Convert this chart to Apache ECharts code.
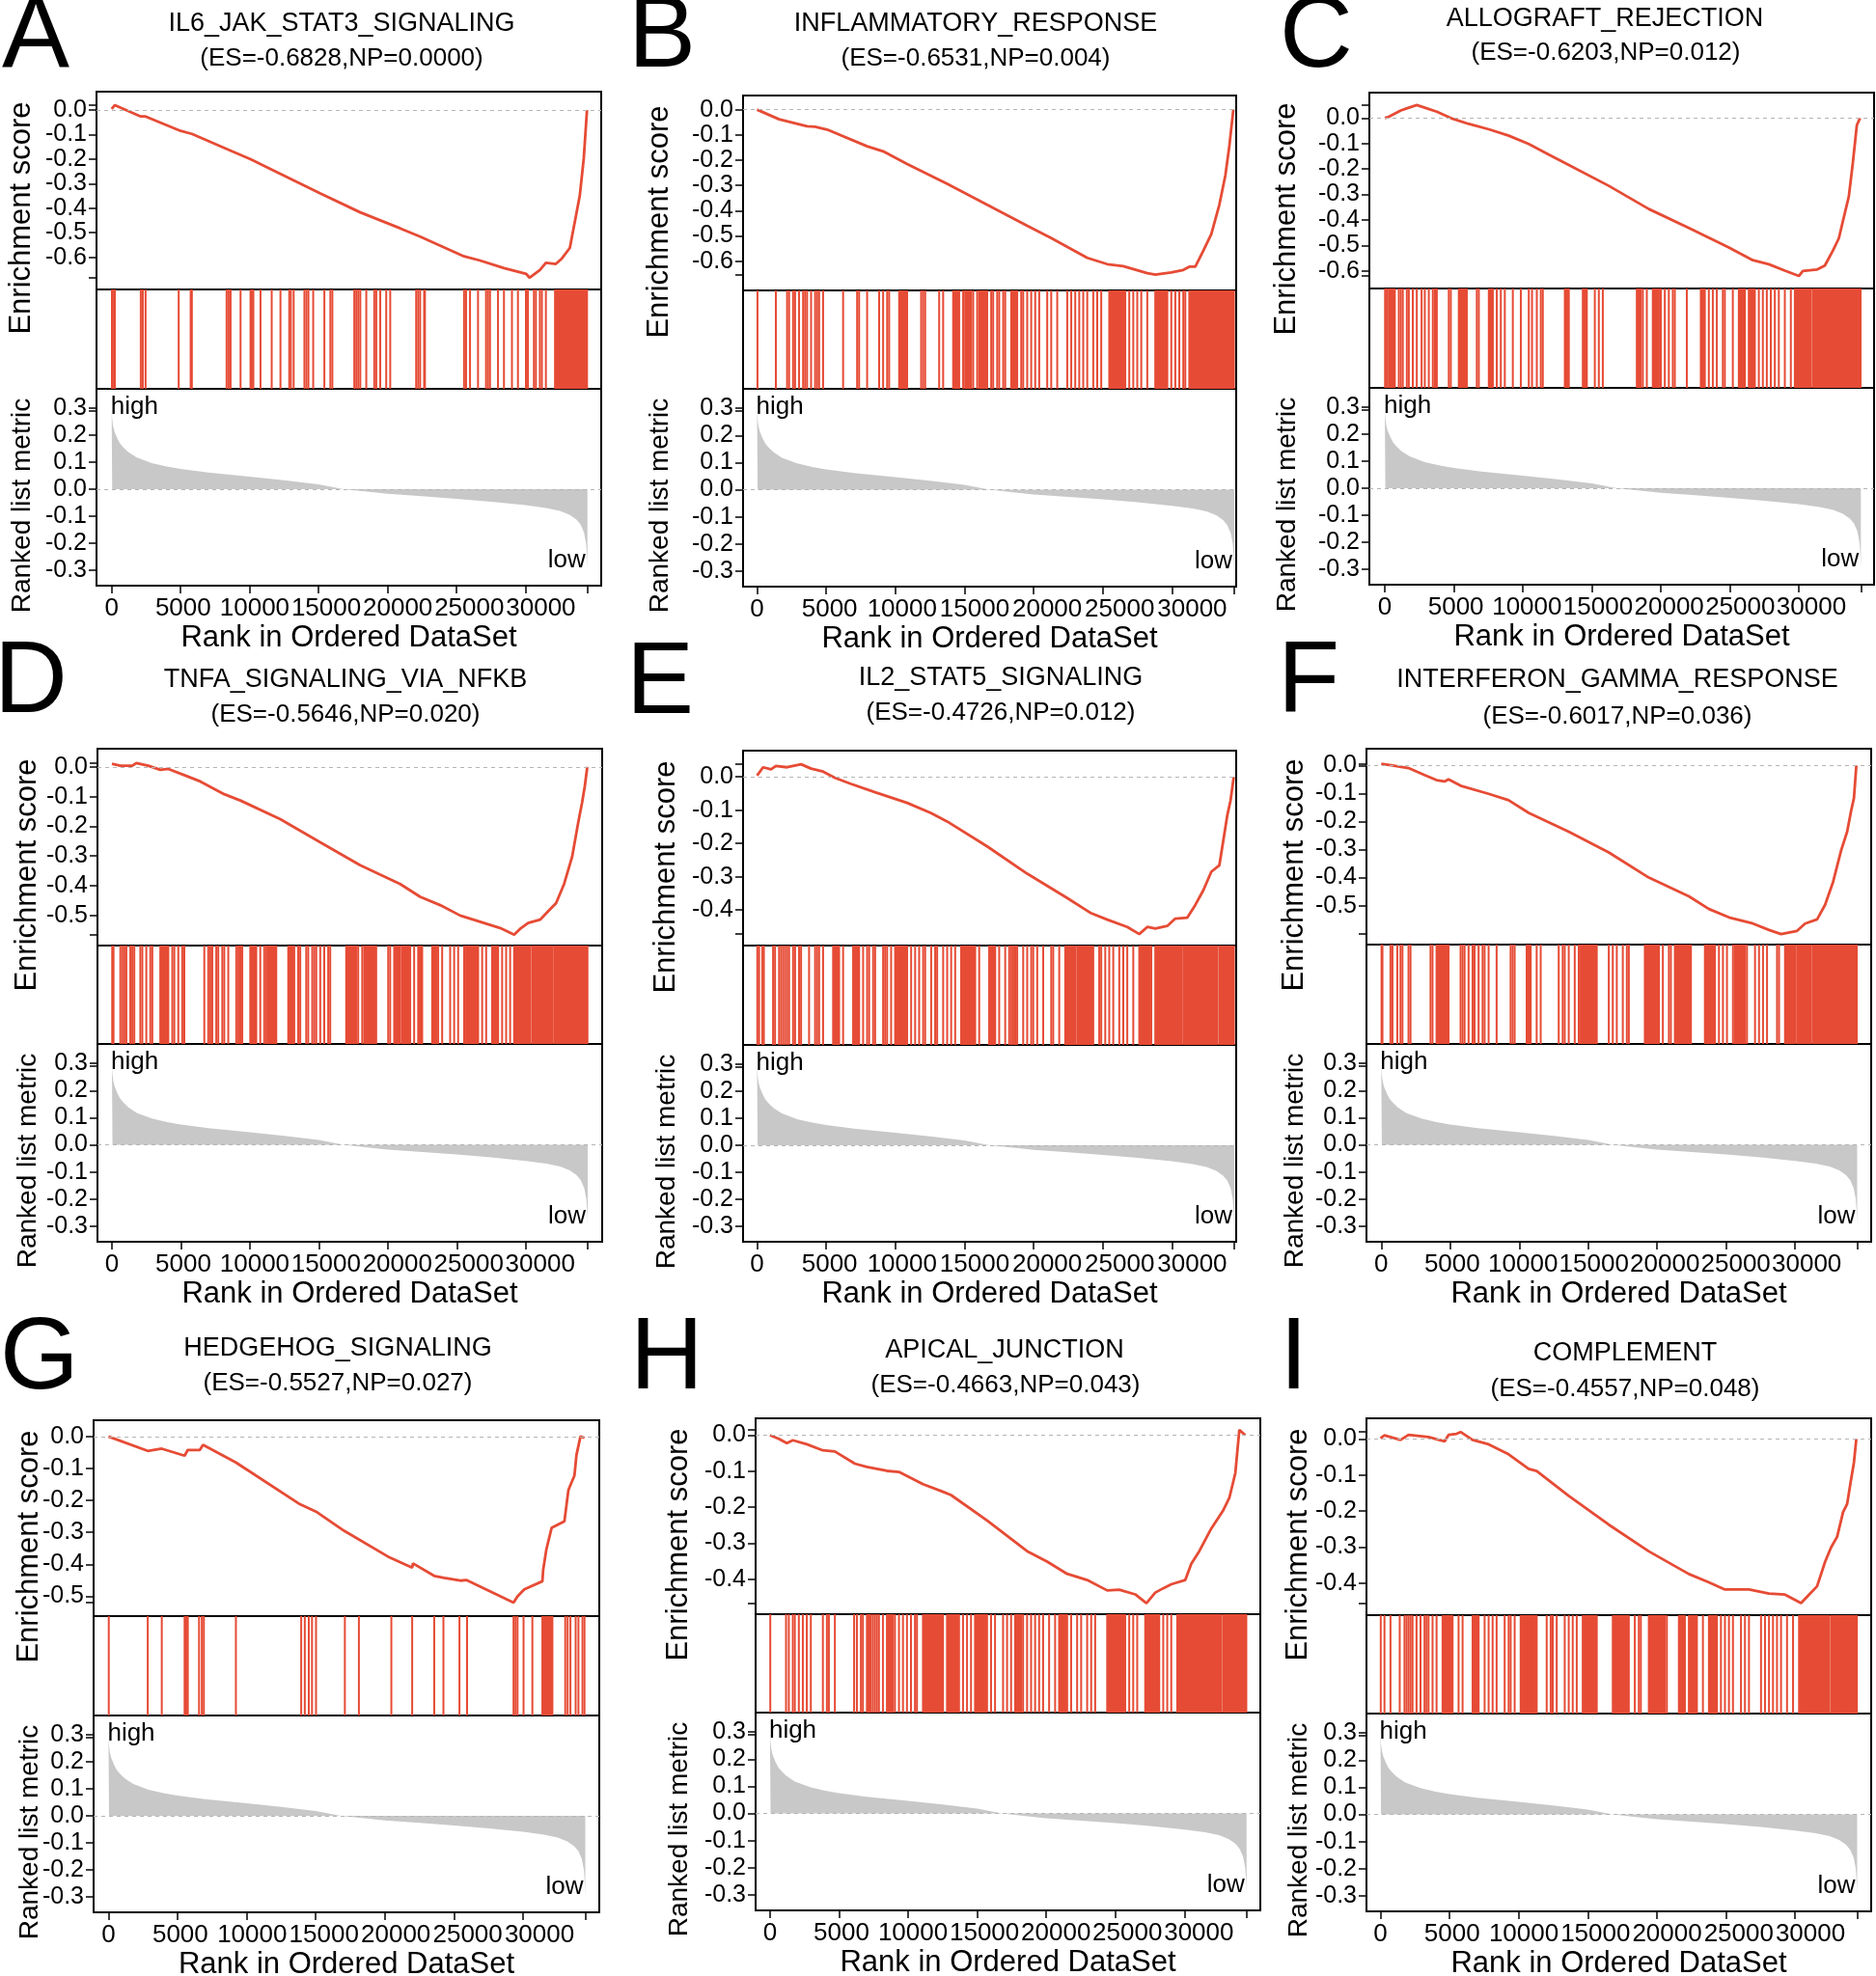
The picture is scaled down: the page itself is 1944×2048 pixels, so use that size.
<!DOCTYPE html>
<html><head><meta charset="utf-8">
<script src="https://cdn.jsdelivr.net/npm/echarts@6/dist/echarts.min.js"></script>
<style>html,body{margin:0;padding:0;background:#fff}#c{width:1944px;height:2048px}</style>
</head><body><div id="c"></div>
<script>
// ---------------- DATA ----------------
const N = 34500;
const letters = ['A','B','C','D','E','F','G','H','I'];
const titles = ['IL6_JAK_STAT3_SIGNALING','INFLAMMATORY_RESPONSE','ALLOGRAFT_REJECTION','TNFA_SIGNALING_VIA_NFKB','IL2_STAT5_SIGNALING','INTERFERON_GAMMA_RESPONSE','HEDGEHOG_SIGNALING','APICAL_JUNCTION','COMPLEMENT'];
const stats = ['(ES=-0.6828,NP=0.0000)','(ES=-0.6531,NP=0.004)','(ES=-0.6203,NP=0.012)','(ES=-0.5646,NP=0.020)','(ES=-0.4726,NP=0.012)','(ES=-0.6017,NP=0.036)','(ES=-0.5527,NP=0.027)','(ES=-0.4663,NP=0.043)','(ES=-0.4557,NP=0.048)'];
const rankTicks = [0,5000,10000,15000,20000,25000,30000];
const metricTicks = [0.3,0.2,0.1,0.0,-0.1,-0.2,-0.3];
const esTicks6 = [0,-0.1,-0.2,-0.3,-0.4,-0.5,-0.6];
const esTicks5 = [0,-0.1,-0.2,-0.3,-0.4,-0.5];
const esTicks4 = [0,-0.1,-0.2,-0.3,-0.4];

// ranked list metric (shared)
const metricRank  = [0,40,100,200,400,600,850,1200,1800,2900,4000,5000,7000,10000,12500,15000,16800,18500,20000,22500,25000,27500,30000,31500,32500,33200,33700,34000,34250,34400,34470,34500];
const metricValue = [0.29,0.26,0.235,0.215,0.19,0.17,0.155,0.138,0.118,0.097,0.084,0.075,0.062,0.047,0.033,0.018,0.0,-0.009,-0.017,-0.026,-0.035,-0.046,-0.059,-0.069,-0.08,-0.094,-0.112,-0.13,-0.16,-0.2,-0.25,-0.3];

// running enrichment score curves [rank, ES]
const esA = [[0,0.005],[232,0.02],[2113,-0.026],[2460,-0.026],[5007,-0.085],[5817,-0.097],[8479,-0.162],[10071,-0.2],[12242,-0.26],[15136,-0.34],[18030,-0.417],[20924,-0.482],[22371,-0.516],[25554,-0.596],[26711,-0.613],[28448,-0.644],[30068,-0.668],[30300,-0.683],[31052,-0.652],[31487,-0.622],[32210,-0.627],[32644,-0.605],[33223,-0.562],[33657,-0.434],[33946,-0.349],[34236,-0.196],[34468,0.0]];
const esB = [[0,0],[1592,-0.038],[3618,-0.066],[4196,-0.068],[5065,-0.079],[7959,-0.145],[9116,-0.165],[10853,-0.215],[13747,-0.294],[16641,-0.377],[19535,-0.46],[21271,-0.509],[23876,-0.587],[25323,-0.612],[26480,-0.62],[28217,-0.648],[28796,-0.653],[29953,-0.645],[30821,-0.635],[31255,-0.622],[31690,-0.622],[32268,-0.559],[32847,-0.493],[33426,-0.377],[33860,-0.261],[34149,-0.145],[34439,0]];
const esC = [[0,0],[290,0.005],[1160,0.03],[1740,0.041],[2319,0.051],[2899,0.041],[3769,0.025],[4928,-0.003],[6088,-0.023],[7537,-0.044],[8987,-0.069],[10436,-0.102],[11886,-0.143],[13335,-0.184],[16234,-0.266],[19133,-0.357],[22032,-0.431],[24931,-0.508],[26671,-0.558],[27830,-0.574],[28990,-0.599],[30005,-0.62],[30295,-0.6],[31309,-0.595],[31889,-0.579],[32469,-0.521],[32904,-0.472],[33338,-0.373],[33628,-0.308],[33918,-0.176],[34208,-0.028],[34440,0]];
const esD = [[0,0.01],[609,0.004],[1478,0.004],[1768,0.013],[2638,0.004],[3508,-0.01],[4088,-0.007],[5247,-0.028],[6407,-0.049],[8146,-0.092],[9306,-0.113],[12205,-0.176],[15104,-0.254],[18003,-0.331],[20902,-0.394],[22351,-0.437],[23801,-0.465],[25250,-0.5],[26700,-0.521],[28149,-0.542],[29164,-0.5646],[29599,-0.545],[30178,-0.525],[31048,-0.514],[31628,-0.486],[32208,-0.458],[32787,-0.394],[33367,-0.303],[33802,-0.19],[34092,-0.12],[34295,-0.063],[34469,0]];
const esE = [[0,0.004],[434,0.029],[1013,0.023],[1360,0.033],[2171,0.029],[3183,0.038],[3907,0.025],[4775,0.016],[5643,-0.003],[6801,-0.021],[8537,-0.046],[10853,-0.078],[12589,-0.109],[13747,-0.134],[16641,-0.209],[19535,-0.291],[22429,-0.364],[24165,-0.41],[25323,-0.429],[26770,-0.451],[27638,-0.4726],[28217,-0.451],[28796,-0.456],[29664,-0.448],[30243,-0.426],[31111,-0.423],[31690,-0.385],[32268,-0.341],[32847,-0.285],[33426,-0.266],[33716,-0.191],[34005,-0.115],[34237,-0.071],[34468,0]];
const esF = [[0,0.006],[813,0],[1975,-0.009],[3136,-0.034],[4008,-0.052],[4588,-0.057],[4879,-0.049],[5750,-0.072],[7783,-0.101],[9235,-0.124],[10687,-0.169],[13591,-0.236],[16495,-0.31],[19399,-0.4],[22303,-0.467],[23755,-0.512],[25207,-0.542],[26949,-0.564],[28111,-0.587],[28982,-0.6017],[30144,-0.59],[30725,-0.564],[31596,-0.549],[32176,-0.497],[32757,-0.415],[33338,-0.303],[33774,-0.236],[34064,-0.161],[34267,-0.116],[34441,0]];
const esG = [[0,0],[2841,-0.045],[3856,-0.038],[5508,-0.06],[5740,-0.042],[6610,-0.042],[6842,-0.026],[9219,-0.081],[13857,-0.212],[15017,-0.235],[17046,-0.295],[20235,-0.376],[21974,-0.41],[22032,-0.397],[23569,-0.436],[24294,-0.442],[25453,-0.451],[25888,-0.449],[29309,-0.52],[29599,-0.5],[30091,-0.478],[31396,-0.453],[31454,-0.417],[31686,-0.353],[32063,-0.286],[32991,-0.265],[33281,-0.167],[33716,-0.122],[33861,-0.058],[34151,0.0],[34441,-0.004]];
const esH = [[0,0],[638,-0.01],[1218,-0.022],[1652,-0.014],[2667,-0.025],[3827,-0.042],[4696,-0.045],[6146,-0.079],[7016,-0.088],[8465,-0.099],[9335,-0.102],[9915,-0.113],[11074,-0.136],[12524,-0.157],[13103,-0.166],[15713,-0.237],[18612,-0.322],[20061,-0.351],[21511,-0.385],[22960,-0.402],[24410,-0.431],[25280,-0.429],[26439,-0.442],[27251,-0.4663],[27889,-0.437],[28468,-0.425],[29048,-0.414],[30063,-0.402],[30498,-0.357],[31077,-0.322],[31947,-0.259],[32817,-0.208],[33252,-0.174],[33687,-0.105],[33976,0.015],[34411,0]];
const esI = [[0,0.002],[290,0.01],[1450,-0.003],[2029,0.011],[3479,0.005],[4638,-0.007],[4928,0.011],[5508,0.014],[5798,0.019],[6668,-0.003],[7827,-0.015],[9277,-0.043],[10726,-0.083],[11306,-0.089],[13625,-0.158],[16524,-0.238],[19423,-0.312],[22322,-0.375],[23772,-0.398],[24931,-0.418],[26671,-0.418],[28120,-0.429],[29280,-0.432],[30440,-0.4557],[31019,-0.432],[31599,-0.409],[32179,-0.341],[32614,-0.301],[33049,-0.272],[33483,-0.203],[33773,-0.181],[34063,-0.112],[34266,-0.066],[34440,0]];

// gene-set hit positions: single ranks, or [start,end] for dense runs of hits
const hitsA = [20,87,232,2113,2257,2460,4862,5730,5817,8335,8479,8624,9348,10071,10158,10274,10795,11605,12242,12878,12994,13197,13978,14123,14267,14615,15425,15859,16004,17596,17740,17885,18030,18464,19043,19187,19477,19911,20200,22081,22226,22371,22660,22718,25554,25699,25988,26567,27146,27290,27435,28014,28448,29027,29461,30040,30185,30619,30763,31052,31197,31487,[32150,34470]];
const hitsB = [30,1360,2171,2315,2605,2749,3039,3328,3473,3618,3907,4196,4341,4486,4775,6222,7235,7380,7959,8827,9116,9406,9550,[10274,10853],11865,12010,12155,13168,13457,[14181,14615],14904,[15049,15483],15628,15917,[16062,16641],16930,17075,17364,17509,17798,17943,[18377,18811],19100,19245,19535,19824,20113,20403,20982,21271,21705,22429,22718,23007,23297,23586,23876,24310,24599,24888,[25468,26625],26914,27204,27493,27782,28217,[28796,29664],29953,30243,30532,30821,30966,[31255,34480]];
const hitsC = [20,145,[290,725],1015,1160,1305,1594,1740,2029,2319,2667,2899,3189,3479,[3624,3769],4638,4783,[5363,5943],6668,6813,[7537,7827],8117,8407,8697,9277,9857,10436,10668,11016,11306,11451,[13046,13335],[14350,14640],15220,15510,15800,[18264,18554],18699,18988,[19423,19858],20003,20293,20583,20873,21018,21887,[22902,23192],23482,23772,24062,24497,24642,25221,[25656,26091],[26381,26816],27106,27396,27685,27975,28265,28555,28990,29425,[29715,30875],[31020,34480]];
const hitsD = [20,116,609,754,899,1044,1334,1478,1623,2058,2203,2493,2783,2928,[3508,4088],4377,4522,4812,5102,5247,6697,6987,7132,7276,7566,7711,8001,8146,8436,9016,9161,9306,9451,[10031,10465],10755,11045,11190,[11335,11915],[12785,13219],13509,13654,14089,14234,14524,14669,14814,15104,15394,15684,15829,[16988,17713],17858,18148,[18293,19162],20032,20177,[20467,20902],[21047,21627],21916,[22206,22496],[23221,23511],23656,23946,24525,24815,25105,25540,[25685,26555],26845,27135,[27570,28004],28294,28584,28874,[29164,30323],[30468,31918],[32063,34480]];
const hitsE = [20,145,376,492,1158,1302,1592,1736,1881,2026,2171,2315,2605,2749,3039,3183,3762,4196,4341,4486,4775,[5499,5933],6222,[6946,7380],7669,7959,8103,8393,8537,9116,9261,9406,9695,[9984,10853],11142,11431,11721,12010,12155,12589,12878,13023,13457,13747,14036,14325,[14759,15772],16062,[16785,17219],17509,17943,18232,18377,18522,18666,18811,19245,19535,19824,19969,20258,20692,21271,21416,21850,[22284,23007],[23152,24310],24744,24888,25178,25467,25757,26191,26480,26770,27204,[27638,28506],[28796,30677],[30821,33281],[33426,34480]];
const hitsF = [20,87,668,813,1162,1394,1539,1975,2120,3572,3717,[4008,4879],5750,5895,6040,6331,6621,6766,7057,7347,7492,7783,8364,9380,9525,9670,[10542,10832],11268,11558,12865,13155,13300,13591,14026,14317,[14462,15624],16495,16785,17076,17511,17802,17947,[19108,20125],20415,20851,20996,[21286,22448],[23464,24190],24481,24771,25062,25497,[25643,26369],26514,27095,27385,27675,27966,28692,28837,[29272,29998],[30144,31160],[31305,34470]];
const hitsG = [20,2841,3856,5508,5624,5740,6552,6755,6900,9219,13944,14205,14495,14727,15017,17104,18119,20467,21974,23569,24236,25395,25946,29309,29454,29599,30033,30671,[31396,32121],33049,33223,33426,33803,34006,34296,34441];
const hitsH = [20,1160,1363,1652,1797,2087,2377,2667,2957,3827,4117,4262,4696,6088,6291,6581,6726,[7016,7305],7450,7595,7740,7885,8175,[8465,8900],9045,9335,9625,9915,10204,10494,10639,[11074,12524],[12814,13683],13973,14263,14553,[14843,15713],16002,16292,16872,17162,17452,[17742,18177],18322,18612,18901,19191,19481,19771,20206,20641,[20931,21511],21800,22235,22525,22960,23250,23540,[24410,25714],26004,26294,26584,[27164,28178],28468,28758,29048,[29483,32672],[32817,34480]];
const hitsI = [20,290,725,1392,1739,1884,2029,2174,2319,2609,2899,3189,3334,3479,3769,4059,[4493,5218],5653,5943,[6668,7103],7537,7827,8117,8407,8987,9277,9422,9712,[10147,11306],12031,12321,12466,12756,13335,13625,13915,14205,[14640,15655],[16814,17974],18409,18699,18844,[19423,20583],20728,[21598,22032],[22322,22902],23337,[23772,24352],24642,24931,25221,25511,26091,26381,26671,27541,27830,28120,28410,28700,28990,29425,29860,[30295,32469],[32614,34480]];

// ---------------- LAYOUT ----------------
const RED = '#e64b35';
const FONT = '"Liberation Sans", Arial, Helvetica, sans-serif';
const panels = [
 {es:esA,hits:hitsA,l:100,r:623,t:95,b1:300,b2:403,b:607,xMin:-1098,xMax:35499,yMin:-0.731,yMax:0.075,ticks:esTicks6,letter:[2,40],title:[354,25],sub:[354,63],nameX:22,lshift:16},
 {es:esB,hits:hitsB,l:770,r:1281,t:99,b1:301,b2:403,b:608,xMin:-1012,xMax:34646,yMin:-0.716,yMax:0.056,ticks:esTicks6,letter:[651,40],title:[1011,25],sub:[1011,63],nameX:683,lshift:21},
 {es:esC,hits:hitsC,l:1419,r:1942,t:96,b1:299,b2:402,b:606,xMin:-1119,xMax:35457,yMin:-0.669,yMax:0.1,ticks:esTicks6,letter:[1326,40],title:[1663,20],sub:[1664,57],nameX:1333,lshift:13},
 {es:esD,hits:hitsD,l:101,r:624,t:776,b1:980,b2:1082,b:1287,xMin:-1049,xMax:35548,yMin:-0.601,yMax:0.061,ticks:esTicks5,letter:[-6,709],title:[358,705],sub:[358,743],nameX:28,lshift:15},
 {es:esE,hits:hitsE,l:770,r:1281,t:778,b1:980,b2:1083,b:1287,xMin:-1012,xMax:34646,yMin:-0.507,yMax:0.079,ticks:esTicks4,letter:[649,710],title:[1037,703],sub:[1037,741],nameX:690,lshift:21},
 {es:esF,hits:hitsF,l:1416,r:1939,t:776,b1:979,b2:1082,b:1287,xMin:-1072,xMax:35516,yMin:-0.639,yMax:0.06,ticks:esTicks5,letter:[1324,709],title:[1676,705],sub:[1676,745],nameX:1341,lshift:12},
 {es:esG,hits:hitsG,l:97,r:621,t:1472,b1:1675,b2:1778,b:1982,xMin:-1077,xMax:35513,yMin:-0.562,yMax:0.051,ticks:esTicks5,letter:[0,1410],title:[350,1398],sub:[350,1436],nameX:30,lshift:17},
 {es:esH,hits:hitsH,l:783,r:1306,t:1470,b1:1673,b2:1775,b:1980,xMin:-1042,xMax:35495,yMin:-0.497,yMax:0.047,ticks:esTicks4,letter:[653,1410],title:[1041,1400],sub:[1042,1438],nameX:703,lshift:15},
 {es:esI,hits:hitsI,l:1416,r:1939,t:1470,b1:1674,b2:1776,b:1981,xMin:-1014,xMax:35515,yMin:-0.489,yMax:0.057,ticks:esTicks4,letter:[1326,1410],title:[1684,1403],sub:[1684,1442],nameX:1345,lshift:16}
];
const RANK_MIN = -0.357, RANK_MAX = 0.372;

function renderHit(params, api) {
  const s = api.value(0), e = api.value(1);
  const p1 = api.coord([s, 1]);
  const p2 = api.coord([e, 0]);
  const w = Math.max(p2[0] - p1[0], 0) + 2;
  return {type:'rect', shape:{x:p1[0]-1, y:p1[1], width:w, height:p2[1]-p1[1]}, style:{fill:RED}};
}
function txt(x, y, text, size, align, vAlign, extra) {
  return Object.assign({type:'text', x:x, y:y, silent:true, z:100,
    style:{text:text, fill:'#000', font:size+'px '+FONT, fontSize:size, fontFamily:FONT,
      align:align, textAlign:align, verticalAlign:vAlign, textVerticalAlign:vAlign}}, extra||{});
}

const grids=[], xAxes=[], yAxes=[], series=[], graphics=[];
const metricData = metricRank.map((r,k)=>[r, metricValue[k]]);
const mMin = Math.min(...metricValue), mMax = Math.max(...metricValue);
const zeroLine = {silent:true, symbol:'none', label:{show:false}, lineStyle:{color:'#b5b5b5', type:[4,4], width:1}, data:[{yAxis:0}]};
const axisCommon = (ticks, labels, fmt, fs, margin) => ({
  axisLine:{show:true, onZero:false, lineStyle:{color:'#000', width:2}},
  axisTick:{show:true, inside:false, length:8, lineStyle:{color:'#000', width:1.5}, customValues:ticks},
  axisLabel:{show:!!labels, customValues:labels||[], formatter:fmt, fontSize:fs, fontFamily:FONT, color:'#000', margin:margin,
    hideOverlap:false, showMinLabel:true, showMaxLabel:true},
  splitLine:{show:false}
});

panels.forEach((p,i)=>{
  const W = p.r - p.l, g0 = i*3;
  const gb = {show:true, borderColor:'#000', borderWidth:2, backgroundColor:'transparent', containLabel:false, outerBoundsMode:'none'};
  grids.push(Object.assign({left:p.l, top:p.t, width:W, height:p.b1-p.t}, gb));
  grids.push(Object.assign({left:p.l, top:p.b1, width:W, height:p.b2-p.b1}, gb));
  grids.push(Object.assign({left:p.l, top:p.b2, width:W, height:p.b-p.b2}, gb));

  const xi = xAxes.length;
  xAxes.push({gridIndex:g0, type:'value', min:p.xMin, max:p.xMax, show:false});
  xAxes.push({gridIndex:g0+1, type:'value', min:p.xMin, max:p.xMax, show:false});
  // rank axis: line + ticks
  xAxes.push(Object.assign({gridIndex:g0+2, type:'value', position:'bottom', min:p.xMin, max:p.xMax},
    axisCommon(rankTicks.concat([N]), null, v=>String(v), 26, 11)));
  // rank axis labels (the source figure spreads its tick labels slightly wider than its ticks)
  const slope = W/(p.xMax - p.xMin), slope2 = slope + p.lshift/30000;
  const lMin = p.xMin*slope/slope2, lMax = lMin + W/slope2;
  xAxes.push({gridIndex:g0+2, type:'value', position:'bottom', offset:0, min:lMin, max:lMax,
    axisLine:{show:false, onZero:false}, axisTick:{show:false}, splitLine:{show:false},
    axisLabel:{show:true, customValues:rankTicks, formatter:v=>String(v), fontSize:26, fontFamily:FONT, color:'#000', margin:11,
      hideOverlap:false, showMinLabel:true, showMaxLabel:true}});

  const esVals = p.es.map(d=>d[1]);
  const esMin = Math.min(...esVals), esMax = Math.max(...esVals);
  yAxes.push(Object.assign({gridIndex:g0, type:'value', min:p.yMin, max:p.yMax},
    axisCommon(p.ticks.concat([esMin, esMax]).sort((a,b)=>a-b), p.ticks.slice().sort((a,b)=>a-b), v=>v.toFixed(1), 25, 10)));
  yAxes.push({gridIndex:g0+1, type:'value', min:0, max:1, show:false});
  yAxes.push(Object.assign({gridIndex:g0+2, type:'value', min:RANK_MIN, max:RANK_MAX},
    axisCommon(metricTicks.concat([mMin, mMax]).sort((a,b)=>a-b), metricTicks.slice().sort((a,b)=>a-b), v=>v.toFixed(1), 25, 10)));

  series.push({type:'line', xAxisIndex:xi, yAxisIndex:g0, data:p.es, symbol:'none', silent:true,
    lineStyle:{color:RED, width:2.8}, itemStyle:{color:RED}, z:3, markLine:zeroLine});
  series.push({type:'custom', xAxisIndex:xi+1, yAxisIndex:g0+1, silent:true,
    data:p.hits.map(h=>Array.isArray(h)?[h[0],h[1],1]:[h,h,1]), encode:{x:[0,1], y:2}, renderItem:renderHit});
  series.push({type:'line', xAxisIndex:xi+2, yAxisIndex:g0+2, data:metricData, symbol:'none', silent:true,
    lineStyle:{opacity:0, width:0}, areaStyle:{color:'#c8c8c8', opacity:1}, markLine:zeroLine});

  // texts
  graphics.push(txt(p.letter[0], p.letter[1], letters[i], 105, 'left', 'middle'));
  graphics.push(txt(p.title[0], p.title[1], titles[i], 27, 'center', 'middle'));
  graphics.push(txt(p.sub[0], p.sub[1]-2, stats[i], 26, 'center', 'middle'));
  graphics.push(txt(p.nameX, p.t+131, 'Enrichment score', 31, 'center', 'middle', {rotation:Math.PI/2}));
  graphics.push(txt(p.nameX+1, p.b2+121, 'Ranked list metric', 28, 'center', 'middle', {rotation:Math.PI/2}));
  graphics.push(txt((p.l+p.r)/2, p.b+54, 'Rank in Ordered DataSet', 31, 'center', 'middle'));
  const px0 = p.l + (0 - p.xMin)/(p.xMax - p.xMin)*W;
  const pxN = p.l + (N - p.xMin)/(p.xMax - p.xMin)*W;
  graphics.push(txt(px0-1, p.b2+19, 'high', 26, 'left', 'middle'));
  graphics.push(txt(pxN-2, p.b-26, 'low', 26, 'right', 'middle'));
});

const chart = echarts.init(document.getElementById('c'), null, {renderer:'canvas'});
chart.setOption({
  backgroundColor:'#ffffff', animation:false,
  grid:grids, xAxis:xAxes, yAxis:yAxes, series:series, graphic:graphics
});
</script></body></html>
